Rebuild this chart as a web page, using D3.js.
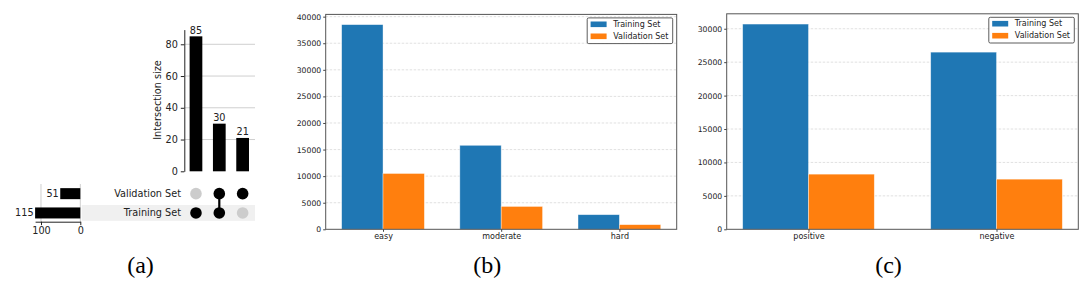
<!DOCTYPE html>
<html>
<head>
<meta charset="utf-8">
<script src="https://cdn.jsdelivr.net/npm/d3@7"></script>
<style>
  body { margin: 0; background: #fff; }
  svg { display: block; font-family: "DejaVu Sans", sans-serif; }
  .caption { font-family: "Liberation Serif", "Times New Roman", serif; font-size: 24px; fill: #000; }
</style>
</head>
<body>
<svg id="fig" width="1085" height="281"></svg>
<script>
// ---- (a) upset plot data ----
const setNames = ["Validation Set", "Training Set"];
const setSizes = [51, 115];
const intersectionSizes = [85, 30, 21];
// membership per intersection column, in setNames order
const intersectionMembers = [[0, 1], [1, 1], [1, 0]];
const upsetTicks = [0, 20, 40, 60, 80];
const totalsTicks = [100, 0];

// ---- (b) difficulty ----
const difficultyCats = ["easy", "moderate", "hard"];
const difficultyTrain = [38500, 15800, 2750];
const difficultyVal = [10500, 4300, 870];

// ---- (c) sentiment ----
const sentimentCats = ["positive", "negative"];
const sentimentTrain = [30700, 26500];
const sentimentVal = [8250, 7500];

const seriesNames = ["Training Set", "Validation Set"];
const seriesColors = ["#1f77b4", "#ff7f0e"];

const svg = d3.select("#fig");

// ================= (a) =================
function drawUpset() {
  const g = svg.append("g");
  const fs = 9.7;

  // intersection bar chart
  const x = d3.scaleBand().domain(d3.range(intersectionSizes.length)).range([184.3, 254.3]);
  const y = d3.scaleLinear().domain([0, d3.max(intersectionSizes) * 1.05]).range([171.3, 29.6]);
  const barW = x.bandwidth() * 0.545;

  // grid
  g.append("g").selectAll("line").data(upsetTicks.filter(d => d > 0)).join("line")
    .attr("x1", 184.3).attr("x2", 255)
    .attr("y1", d => y(d)).attr("y2", d => y(d))
    .attr("stroke", "#cfcfcf").attr("stroke-width", 1);

  g.append("g").selectAll("rect").data(intersectionSizes).join("rect")
    .attr("x", (d, i) => x(i) + (x.bandwidth() - barW) / 2)
    .attr("width", barW)
    .attr("y", d => y(d))
    .attr("height", d => y(0) - y(d))
    .attr("fill", "#000");

  g.append("g").selectAll("text").data(intersectionSizes).join("text")
    .attr("x", (d, i) => x(i) + x.bandwidth() / 2)
    .attr("y", d => y(d) - 2.5)
    .attr("text-anchor", "middle")
    .attr("font-size", fs).attr("fill", "#222")
    .text(d => d);

  const yAxis = g.append("g").attr("transform", "translate(184.3,0)")
    .call(d3.axisLeft(y).tickValues(upsetTicks).tickSize(3.5).tickPadding(3).tickSizeOuter(0));
  yAxis.select(".domain").attr("stroke", "#222");
  yAxis.selectAll(".tick line").attr("stroke", "#222");
  yAxis.selectAll("text").attr("font-size", fs).attr("fill", "#222").attr("font-family", "DejaVu Sans");

  g.append("text")
    .attr("transform", "translate(161,100) rotate(-90)")
    .attr("text-anchor", "middle")
    .attr("font-size", fs).attr("fill", "#222")
    .text("Intersection size");

  // matrix
  const rows = d3.scaleBand().domain(setNames).range([184, 222.6]);
  const rowY = n => rows(n) + rows.bandwidth() / 2;

  g.append("rect")
    .attr("x", 81.7).attr("width", 255 - 81.7)
    .attr("y", rowY("Training Set") - 7.9).attr("height", 15.8)
    .attr("fill", "#f0f0f0");

  g.append("g").selectAll("text").data(setNames).join("text")
    .attr("x", 181).attr("y", d => rowY(d))
    .attr("dy", "0.35em")
    .attr("text-anchor", "end")
    .attr("font-size", fs).attr("fill", "#222")
    .text(d => d);

  intersectionMembers.forEach((mem, i) => {
    const cx = x(i) + x.bandwidth() / 2;
    const active = setNames.filter((s, k) => mem[k]);
    if (active.length > 1) {
      g.append("line")
        .attr("x1", cx).attr("x2", cx)
        .attr("y1", d3.min(active, rowY)).attr("y2", d3.max(active, rowY))
        .attr("stroke", "#000").attr("stroke-width", 2.2);
    }
    g.append("g").selectAll("circle").data(setNames).join("circle")
      .attr("cx", cx).attr("cy", d => rowY(d))
      .attr("r", 5.8)
      .attr("fill", (d, k) => mem[k] ? "#000" : "#cccccc");
  });

  // totals
  const tx = d3.scaleLinear().domain([0, d3.max(setSizes)]).range([80.3, 35.1]);
  g.append("g").selectAll("line").data(totalsTicks).join("line")
    .attr("x1", d => tx(d)).attr("x2", d => tx(d))
    .attr("y1", 184).attr("y2", 221.7)
    .attr("stroke", "#cfcfcf").attr("stroke-width", 1);

  const barH = rows.bandwidth() * 0.57;
  g.append("g").selectAll("rect").data(setSizes).join("rect")
    .attr("x", d => tx(d))
    .attr("width", d => tx(0) - tx(d))
    .attr("y", (d, i) => rowY(setNames[i]) - barH / 2)
    .attr("height", barH)
    .attr("fill", "#000");

  g.append("g").selectAll("text").data(setSizes).join("text")
    .attr("x", d => tx(d) - 1.5)
    .attr("y", (d, i) => rowY(setNames[i]))
    .attr("dy", "0.35em")
    .attr("text-anchor", "end")
    .attr("font-size", fs).attr("fill", "#222")
    .text(d => d);

  const xAxis = g.append("g").attr("transform", "translate(0,221.7)")
    .call(d3.axisBottom(tx).tickValues(totalsTicks).tickSize(3.5).tickPadding(2).tickSizeOuter(0));
  xAxis.select(".domain").attr("stroke", "#222");
  xAxis.selectAll(".tick line").attr("stroke", "#222");
  xAxis.selectAll("text").attr("font-size", fs).attr("fill", "#222").attr("font-family", "DejaVu Sans");

  svg.append("text").attr("class", "caption")
    .attr("x", 140.5).attr("y", 272.5).attr("text-anchor", "middle").text("(a)");
}

// ================= (b), (c) grouped bars =================
function drawGrouped(cats, train, val, box, step, caption) {
  const g = svg.append("g");
  const fs = 7.7;
  const w = 0.35;
  const n = cats.length;
  const pad = 0.05 * (n - 1 + 2 * w);
  const x = d3.scaleLinear().domain([-w - pad, n - 1 + w + pad]).range([box.left, box.right]);
  const ymax = d3.max(train.concat(val)) * 1.05;
  const y = d3.scaleLinear().domain([0, ymax]).range([box.bottom, box.top]);
  const ticks = d3.range(0, ymax, step);

  // grid
  g.append("g").selectAll("line").data(ticks.filter(d => d > 0)).join("line")
    .attr("x1", box.left).attr("x2", box.right)
    .attr("y1", d => y(d)).attr("y2", d => y(d))
    .attr("stroke", "#d4d4d4").attr("stroke-width", 0.7)
    .attr("stroke-dasharray", "2.5,1.5");

  const series = [train, val];
  series.forEach((vals, s) => {
    g.append("g").selectAll("rect").data(vals).join("rect")
      .attr("x", (d, i) => x(i + (s === 0 ? -w : 0)))
      .attr("width", x(w) - x(0))
      .attr("y", d => y(d))
      .attr("height", d => y(0) - y(d))
      .attr("fill", seriesColors[s])
      .attr("stroke", "#ffffff").attr("stroke-opacity", 0.55).attr("stroke-width", 0.7);
  });

  // frame
  g.append("rect")
    .attr("x", box.left).attr("y", box.top)
    .attr("width", box.right - box.left).attr("height", box.bottom - box.top)
    .attr("fill", "none").attr("stroke", "#555").attr("stroke-width", 1);

  const yAxis = g.append("g").attr("transform", `translate(${box.left},0)`)
    .call(d3.axisLeft(y).tickValues(ticks).tickFormat(d3.format("d")).tickSize(2.5).tickPadding(2).tickSizeOuter(0));
  yAxis.select(".domain").remove();
  yAxis.selectAll(".tick line").attr("stroke", "#444");
  yAxis.selectAll("text").attr("font-size", fs).attr("fill", "#222").attr("font-family", "DejaVu Sans");

  const xAxis = g.append("g").attr("transform", `translate(0,${box.bottom})`)
    .call(d3.axisBottom(x).tickValues(d3.range(n)).tickFormat(i => cats[i]).tickSize(2.5).tickPadding(2).tickSizeOuter(0));
  xAxis.select(".domain").remove();
  xAxis.selectAll(".tick line").attr("stroke", "#444");
  xAxis.selectAll("text").attr("font-size", 8).attr("fill", "#222").attr("font-family", "DejaVu Sans");

  // legend
  const lw = 85.5, lx = box.right - 4 - lw, ly = box.top + 3.5;
  const lg = g.append("g").attr("transform", `translate(${lx},${ly})`);
  lg.append("rect").attr("width", lw).attr("height", 25.7).attr("rx", 1.5)
    .attr("fill", "#fff").attr("stroke", "#333").attr("stroke-width", 0.8);
  seriesNames.forEach((name, s) => {
    const cy = 6.4 + s * 12;
    lg.append("rect").attr("x", 3.4).attr("y", cy - 2.8).attr("width", 16).attr("height", 5.6)
      .attr("fill", seriesColors[s]);
    lg.append("text").attr("x", 26).attr("y", cy).attr("dy", "0.35em")
      .attr("font-size", 8).attr("fill", "#222").text(name);
  });

  svg.append("text").attr("class", "caption")
    .attr("x", (box.left + box.right) / 2 - 14).attr("y", 272.5).attr("text-anchor", "middle").text(caption);
}

drawUpset();
drawGrouped(difficultyCats, difficultyTrain, difficultyVal,
  { left: 325.7, right: 676.7, top: 14.4, bottom: 229.3 }, 5000, "(b)");
drawGrouped(sentimentCats, sentimentTrain, sentimentVal,
  { left: 726.7, right: 1078.3, top: 13.8, bottom: 229.3 }, 5000, "(c)");
</script>
</body>
</html>
